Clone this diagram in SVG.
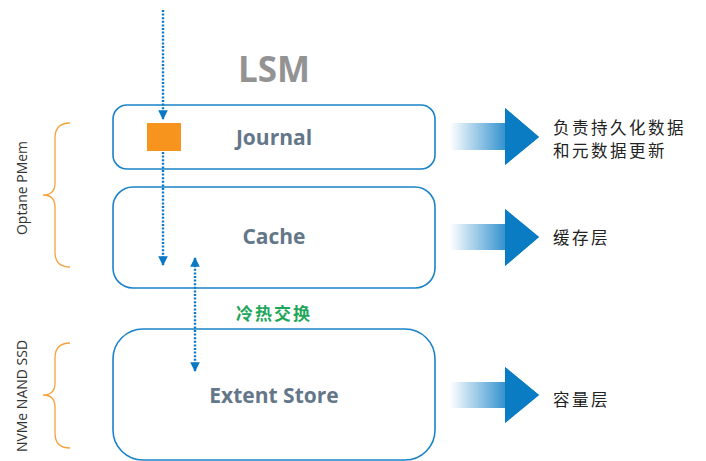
<svg xmlns="http://www.w3.org/2000/svg" width="706" height="461" viewBox="0 0 706 461">
  <defs>
    <linearGradient id="fadeBlue" x1="0" y1="0" x2="1" y2="0">
      <stop offset="0" stop-color="#0a7cc4" stop-opacity="0"/>
      <stop offset="0.75" stop-color="#0a7cc4" stop-opacity="1"/>
    </linearGradient>
    <marker id="tip" viewBox="0 0 10 10" refX="9" refY="5" markerWidth="4" markerHeight="4" orient="auto-start-reverse" markerUnits="strokeWidth">
      <path d="M0,0 L10,5 L0,10 z" fill="#0a78c4"/>
    </marker>
    <style>
      .box { fill: #ffffff; stroke: #1a82c8; stroke-width: 1.6; }
      .lbl { font-family: "Open Sans", "Liberation Sans", sans-serif; font-weight: 700; font-size: 21px; fill: #637789; text-anchor: middle; }
      .cn { font-family: "Noto Sans CJK SC", sans-serif; font-size: 16.5px; fill: #222222; letter-spacing: 2.5px; }
      .side { font-family: "Open Sans", "Liberation Sans", sans-serif; font-size: 14px; fill: #333333; text-anchor: middle; }
      .brace { fill: none; stroke: #f7a13c; stroke-width: 1.3; }
      .dots { fill: none; stroke: #0a78c4; stroke-width: 2.4; stroke-dasharray: 2 1.6; }
    </style>
  </defs>
  <rect width="706" height="461" fill="#ffffff"/>

  <text x="274" y="82" font-family="'Open Sans', 'Liberation Sans', sans-serif" font-weight="700" font-size="35" fill="#939393" text-anchor="middle">LSM</text>

  <!-- storage tiers -->
  <g id="journal">
    <rect class="box" x="113" y="105" width="322" height="64" rx="14"/>
    <rect x="147" y="123" width="34" height="28" fill="#f7941d"/>
    <text class="lbl" x="274" y="145">Journal</text>
  </g>
  <g id="cache">
    <rect class="box" x="113" y="187" width="322" height="101" rx="20"/>
    <text class="lbl" x="274" y="244">Cache</text>
  </g>
  <g id="extent-store">
    <rect class="box" x="113" y="329" width="322" height="131" rx="30"/>
    <text class="lbl" x="274" y="403">Extent Store</text>
  </g>

  <!-- media braces -->
  <g id="optane-pmem">
    <path class="brace" d="M70,123 Q55,123 55,138 L55,183 Q55,195 43,195 Q55,195 55,207 L55,252 Q55,267 70,267"/>
    <text class="side" transform="translate(27,188) rotate(-90)">Optane PMem</text>
  </g>
  <g id="nvme-ssd">
    <path class="brace" d="M70,343 Q55,343 55,358 L55,383 Q55,395 43,395 Q55,395 55,407 L55,433 Q55,448 70,448"/>
    <text class="side" transform="translate(27,396) rotate(-90)">NVMe NAND SSD</text>
  </g>

  <!-- tier roles -->
  <g id="role-journal">
    <path d="M450,123 H505 V108 L539,137 L505,165 V150 H450 z" fill="url(#fadeBlue)"/>
    <path d="M505,108 L539,137 L505,165 z" fill="#0a7cc4"/>
    <text class="cn" x="553" y="134">负责持久化数据</text>
    <text class="cn" x="553" y="157">和元数据更新</text>
  </g>
  <g id="role-cache">
    <path d="M450,224 H505 V209 L539,237 L505,266 V250 H450 z" fill="url(#fadeBlue)"/>
    <path d="M505,209 L539,237 L505,266 z" fill="#0a7cc4"/>
    <text class="cn" x="553" y="244">缓存层</text>
  </g>
  <g id="role-extent">
    <path d="M450,382 H505 V367 L539,395 L505,423 V408 H450 z" fill="url(#fadeBlue)"/>
    <path d="M505,367 L539,395 L505,423 z" fill="#0a7cc4"/>
    <text class="cn" x="553" y="406">容量层</text>
  </g>

  <!-- data flow -->
  <g id="connectors">
    <path class="dots" d="M163,10 V119" marker-end="url(#tip)"/>
    <path class="dots" d="M163,152 V265" marker-end="url(#tip)"/>
    <path class="dots" d="M195,258 V371" marker-start="url(#tip)" marker-end="url(#tip)"/>
    <text x="274" y="320" font-family="'Noto Sans CJK SC', sans-serif" font-weight="700" font-size="17" fill="#1ea65a" letter-spacing="2" text-anchor="middle">冷热交换</text>
  </g>
</svg>
